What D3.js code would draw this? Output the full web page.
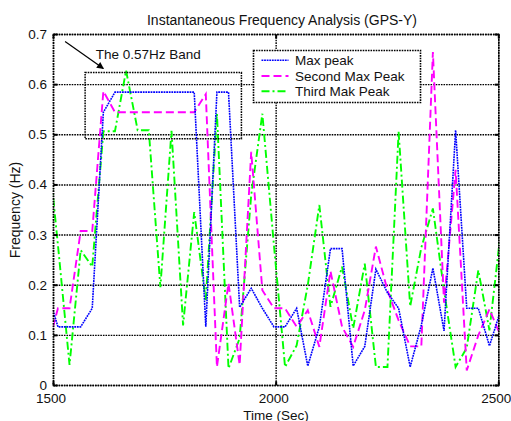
<!DOCTYPE html>
<html>
<head>
<meta charset="utf-8">
<script src="https://cdn.jsdelivr.net/npm/d3@7"></script>
<style>
  body { margin: 0; background: #fff; }
  text { font-family: Arial, "Liberation Sans", sans-serif; fill: #111; }
</style>
</head>
<body>
<svg id="chart" width="511" height="421"></svg>
<script>
// sample times (sec), one value every ~25.5 s
const times = [1485, 1510, 1536, 1561, 1587, 1612, 1638, 1663, 1689, 1714,
               1740, 1765, 1791, 1816, 1842, 1867, 1893, 1918, 1944, 1969,
               1995, 2020, 2046, 2071, 2097, 2122, 2148, 2173, 2199, 2224,
               2250, 2275, 2301, 2326, 2352, 2377, 2403, 2428, 2454, 2479, 2505];

// frequencies (Hz)
const maxPeak = [0.19, 0.117, 0.117, 0.117, 0.154, 0.545, 0.585, 0.585, 0.585, 0.585,
                 0.585, 0.585, 0.585, 0.585, 0.117, 0.585, 0.585, 0.156, 0.194, 0.154,
                 0.117, 0.117, 0.154, 0.039, 0.117, 0.273, 0.273, 0.039, 0.078, 0.232,
                 0.185, 0.154, 0.037, 0.12, 0.234, 0.109, 0.509, 0.154, 0.154, 0.079, 0.152];

const secondPeak = [0.07, 0.154, 0.154, 0.308, 0.308, 0.587, 0.545, 0.545, 0.545, 0.545,
                    0.545, 0.545, 0.545, 0.545, 0.581, 0.037, 0.204, 0.041, 0.466, 0.19,
                    0.154, 0.154, 0.117, 0.15, 0.077, 0.228, 0.117, 0.077, 0.15, 0.277,
                    0.19, 0.13, 0.078, 0.078, 0.665, 0.165, 0.43, 0.03, 0.10, 0.152, 0.097];

const thirdPeak = [0.50, 0.28, 0.041, 0.27, 0.237, 0.507, 0.507, 0.628, 0.509, 0.509,
                   0.196, 0.508, 0.12, 0.346, 0.17, 0.542, 0.034, 0.094, 0.38, 0.542,
                   0.28, 0.037, 0.08, 0.20, 0.36, 0.157, 0.237, 0.114, 0.243, 0.037,
                   0.037, 0.506, 0.158, 0.275, 0.353, 0.19, 0.037, 0.075, 0.23, 0.11, 0.312];

const seriesNames = ["Max peak", "Second Max Peak", "Third Mak Peak"];
const xTicks = [1500, 2000, 2500];
const yTicks = [0, 0.1, 0.2, 0.3, 0.4, 0.5, 0.6, 0.7];
const yTickLabels = ["0", "0.1", "0.2", "0.3", "0.4", "0.5", "0.6", "0.7"];

// the 0.57Hz band annotation
const bandTime = [1571, 1922];
const bandFreq = [0.492, 0.624];
const arrowTime = [1526, 1612];
const arrowFreq = [0.686, 0.632];

const svg = d3.select("#chart");
const plotLeft = 53.5, plotRight = 498.8, plotTop = 34.5, plotBottom = 385.5;

const x = d3.scaleLinear().domain([1500, 2500]).range([plotLeft, plotRight]);
const y = d3.scaleLinear().domain([0, 0.7]).range([plotBottom, plotTop]);

svg.append("rect").attr("width", 511).attr("height", 421).attr("fill", "#fff");

svg.append("clipPath").attr("id", "plotClip")
  .append("rect")
  .attr("x", plotLeft).attr("y", plotTop)
  .attr("width", plotRight - plotLeft).attr("height", plotBottom - plotTop);

// grid
const dotted = "1.6,1";
svg.append("g").selectAll("line").data(yTicks).join("line")
  .attr("x1", plotLeft).attr("x2", plotRight)
  .attr("y1", d => y(d)).attr("y2", d => y(d))
  .attr("stroke", "#000").attr("stroke-width", 1.4)
  .attr("stroke-dasharray", dotted);
svg.append("g").selectAll("line").data(xTicks).join("line")
  .attr("x1", d => x(d)).attr("x2", d => x(d))
  .attr("y1", plotTop).attr("y2", plotBottom)
  .attr("stroke", "#000").attr("stroke-width", 1.4)
  .attr("stroke-dasharray", dotted);

// lines
const lineGen = d3.line()
  .x((d, i) => x(times[i]))
  .y(d => y(d));

const styles = [
  { data: maxPeak,    color: "#0000ff", dash: "1.8,0.8", width: 1.6 },
  { data: secondPeak, color: "#ff00ff", dash: "8,4",     width: 1.9 },
  { data: thirdPeak,  color: "#00ff00", dash: "8,3,2,3", width: 1.9 }
];

const plot = svg.append("g").attr("clip-path", "url(#plotClip)");
// draw third first so the blue sits on top
styles.slice().reverse().forEach(s => {
  plot.append("path")
    .attr("d", lineGen(s.data))
    .attr("fill", "none")
    .attr("stroke", s.color)
    .attr("stroke-width", s.width)
    .attr("stroke-dasharray", s.dash)
    .attr("stroke-linejoin", "miter");
});

// box
svg.append("rect")
  .attr("x", plotLeft).attr("y", plotTop)
  .attr("width", plotRight - plotLeft).attr("height", plotBottom - plotTop)
  .attr("fill", "none").attr("stroke", "#000")
  .attr("stroke-width", 1.6).attr("stroke-dasharray", dotted);

// tick marks (inside, both sides)
const tickLen = 4;
const ticks = svg.append("g").attr("stroke", "#000").attr("stroke-width", 2);
yTicks.forEach(v => {
  ticks.append("line").attr("x1", plotLeft).attr("x2", plotLeft + tickLen).attr("y1", y(v)).attr("y2", y(v));
  ticks.append("line").attr("x1", plotRight).attr("x2", plotRight - tickLen).attr("y1", y(v)).attr("y2", y(v));
});
xTicks.forEach(t => {
  ticks.append("line").attr("x1", x(t)).attr("x2", x(t)).attr("y1", plotBottom).attr("y2", plotBottom - tickLen);
  ticks.append("line").attr("x1", x(t)).attr("x2", x(t)).attr("y1", plotTop).attr("y2", plotTop + tickLen);
});

// tick labels
svg.append("g").selectAll("text").data(yTicks).join("text")
  .attr("x", plotLeft - 6.5).attr("y", d => y(d) + 4.5)
  .attr("text-anchor", "end").attr("font-size", 13.5)
  .text((d, i) => yTickLabels[i]);
svg.append("g").selectAll("text").data(xTicks).join("text")
  .attr("x", d => x(d) - 2.5).attr("y", 402.5)
  .attr("text-anchor", "middle").attr("font-size", 13.5)
  .text(d => d);

// titles
svg.append("text").attr("x", 282).attr("y", 25)
  .attr("text-anchor", "middle").attr("font-size", 14)
  .text("Instantaneous Frequency Analysis (GPS-Y)");
svg.append("text").attr("x", 276).attr("y", 419.5)
  .attr("text-anchor", "middle").attr("font-size", 13.5)
  .text("Time (Sec)");
svg.append("text").attr("transform", "translate(19.5," + ((plotTop + plotBottom) / 2) + ") rotate(-90)")
  .attr("text-anchor", "middle").attr("font-size", 14)
  .text("Frequency (Hz)");

// band annotation
svg.append("rect")
  .attr("x", x(bandTime[0])).attr("y", y(bandFreq[1]))
  .attr("width", x(bandTime[1]) - x(bandTime[0]))
  .attr("height", y(bandFreq[0]) - y(bandFreq[1]))
  .attr("fill", "none").attr("stroke", "#000")
  .attr("stroke-width", 1.5).attr("stroke-dasharray", dotted);

svg.append("defs").append("marker")
  .attr("id", "arrowHead")
  .attr("viewBox", "0 0 10 10").attr("refX", 9).attr("refY", 5)
  .attr("markerWidth", 9).attr("markerHeight", 7)
  .attr("markerUnits", "userSpaceOnUse")
  .attr("orient", "auto")
  .append("path").attr("d", "M0,0 L10,5 L0,10 z").attr("fill", "#000");

svg.append("line")
  .attr("x1", x(arrowTime[0])).attr("y1", y(arrowFreq[0]))
  .attr("x2", x(arrowTime[1])).attr("y2", y(arrowFreq[1]))
  .attr("stroke", "#000").attr("stroke-width", 1.2)
  .attr("marker-end", "url(#arrowHead)");

svg.append("text").attr("x", x(1595)).attr("y", 58.5)
  .attr("font-size", 13.5).text("The 0.57Hz Band");

// legend
const lg = svg.append("g");
lg.append("rect")
  .attr("x", 253.5).attr("y", 50.5).attr("width", 167).attr("height", 52)
  .attr("fill", "#fff").attr("stroke", "#000")
  .attr("stroke-width", 1.6).attr("stroke-dasharray", dotted);
const rows = [60.3, 76, 91.3];
styles.forEach((s, i) => {
  lg.append("line")
    .attr("x1", 261.5).attr("x2", 288.5)
    .attr("y1", rows[i]).attr("y2", rows[i])
    .attr("stroke", s.color).attr("stroke-width", s.width)
    .attr("stroke-dasharray", s.dash);
  lg.append("text").attr("x", 295).attr("y", rows[i] + 4.8)
    .attr("font-size", 13.5).text(seriesNames[i]);
});
</script>
</body>
</html>
